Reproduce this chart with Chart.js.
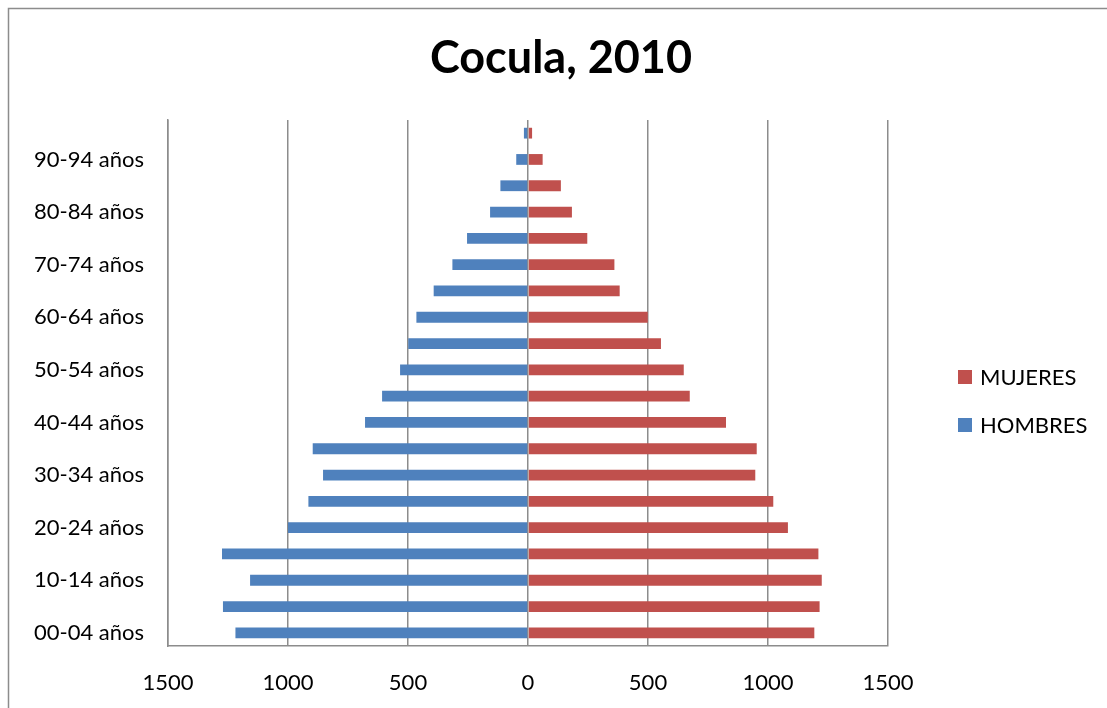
<!DOCTYPE html>
<html>
<head>
<meta charset="utf-8">
<script src="https://cdn.jsdelivr.net/npm/chart.js@4.4.0/dist/chart.umd.min.js"></script>
<style>
  html, body { margin: 0; padding: 0; background: #fff; }
  #wrap { width: 1107px; height: 708px; position: relative; }
</style>
</head>
<body>
<div id="wrap"><canvas id="pyramid"></canvas></div>
<script>
// age groups, bottom to top
var grupos = ['00-04 años', '05-09 años', '10-14 años', '15-19 años', '20-24 años',
  '25-29 años', '30-34 años', '35-39 años', '40-44 años', '45-49 años',
  '50-54 años', '55-59 años', '60-64 años', '65-69 años', '70-74 años',
  '75-79 años', '80-84 años', '85-89 años', '90-94 años', '95-99 años'];

var hombres = [1219, 1271, 1158, 1275, 1000, 915, 854, 897, 679, 608,
  533, 499, 465, 393, 315, 254, 158, 115, 49, 17];

var mujeres = [1193, 1215, 1224, 1210, 1083, 1022, 947, 953, 825, 674,
  649, 554, 499, 382, 360, 247, 183, 137, 61, 17];

var xTicks = [-1500, -1000, -500, 0, 500, 1000, 1500];

var titulo = 'Cocula, 2010';

var FONT = 'Lato, "Open Sans", sans-serif';

// frame round the whole chart, plus the title centred on the page
var framePlugin = {
  id: 'frame',
  beforeDraw: function (chart) {
    var ctx = chart.ctx;
    ctx.save();
    ctx.fillStyle = '#fff';
    ctx.fillRect(0, 0, chart.width, chart.height);
    ctx.strokeStyle = '#8c8c8c';
    ctx.lineWidth = 1.5;
    ctx.strokeRect(8.5, 8.5, 1300, 900);
    ctx.fillStyle = '#000';
    ctx.font = 'bold 45px ' + FONT;
    ctx.textAlign = 'center';
    ctx.textBaseline = 'alphabetic';
    ctx.fillText(titulo, 561, 73);
    ctx.restore();
  }
};

// legend to the right, drawn from the datasets
var sideLegend = {
  id: 'sideLegend',
  afterDraw: function (chart) {
    var ctx = chart.ctx;
    ctx.save();
    ctx.font = '22px ' + FONT;
    ctx.textBaseline = 'middle';
    chart.data.datasets.forEach(function (ds, i) {
      var y = 377 + i * 48;
      ctx.fillStyle = ds.backgroundColor;
      ctx.fillRect(958, y - 7, 14, 14);
      ctx.fillStyle = '#000';
      ctx.fillText(ds.label, 980, y + 1);
    });
    ctx.restore();
  }
};

new Chart(document.getElementById('pyramid'), {
  type: 'bar',
  data: {
    labels: grupos,
    datasets: [{
      label: 'MUJERES',
      data: mujeres,
      backgroundColor: '#C0504D'
    }, {
      label: 'HOMBRES',
      data: hombres.map(function (v) { return -v; }),
      backgroundColor: '#4F81BD'
    }]
  },
  options: {
    indexAxis: 'y',
    responsive: true,
    maintainAspectRatio: false,
    animation: false,
    layout: { padding: { left: 0, right: 219, top: 120, bottom: 0 } },
    datasets: {
      bar: { categoryPercentage: 1, barPercentage: 0.41 }
    },
    scales: {
      x: {
        stacked: true,
        min: -1500,
        max: 1500,
        afterBuildTicks: function (scale) {
          scale.ticks = xTicks.map(function (v) { return { value: v }; });
        },
        afterFit: function (scale) { scale.height = 62; },
        ticks: {
          color: '#000',
          font: { family: FONT, size: 22 },
          padding: 24,
          callback: function (v) { return Math.abs(v); }
        },
        grid: { color: '#8c8c8c', lineWidth: 1.5, drawTicks: false },
        border: { color: '#8c8c8c', width: 1.5 }
      },
      y: {
        stacked: true,
        reverse: true,
        afterFit: function (scale) { scale.width = 168; },
        ticks: {
          color: '#000',
          autoSkip: false,
          font: { family: FONT, size: 22 },
          padding: 24,
          callback: function (v, i) { return i % 2 === 0 ? grupos[i] : ''; }
        },
        grid: { display: false, drawTicks: false },
        border: { color: '#8c8c8c', width: 1.5 }
      }
    },
    plugins: {
      legend: { display: false },
      tooltip: { enabled: false },
      title: { display: false }
    }
  },
  plugins: [framePlugin, sideLegend]
});
</script>
</body>
</html>
